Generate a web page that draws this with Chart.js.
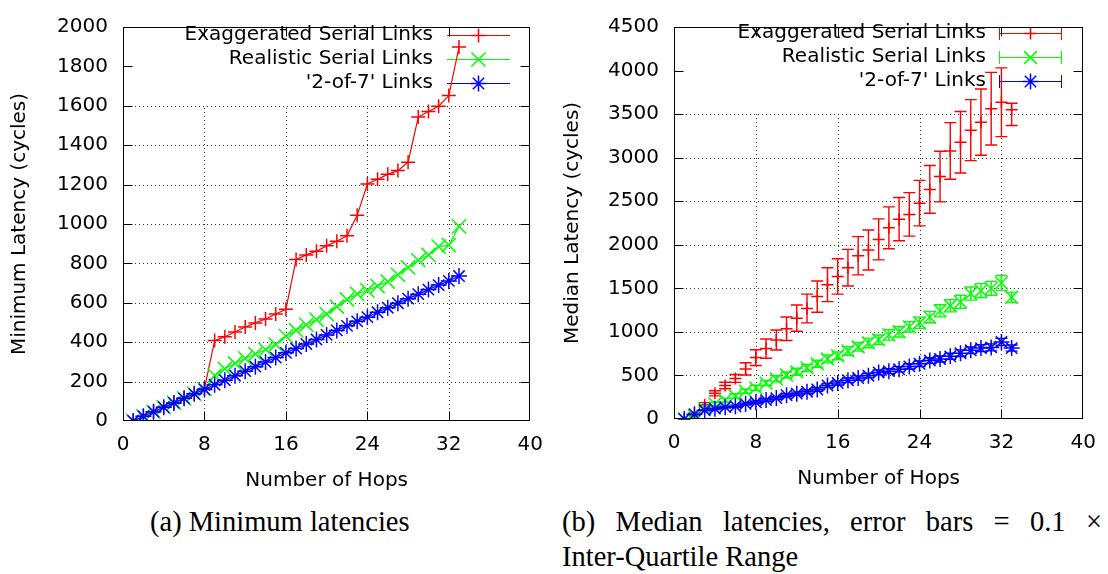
<!DOCTYPE html>
<html><head><meta charset="utf-8">
<script src="https://cdn.jsdelivr.net/npm/chart.js@4.4.1/dist/chart.umd.min.js"></script>
<style>
html,body{margin:0;padding:0;background:#fff;width:1108px;height:574px;overflow:hidden;position:relative}
canvas{position:absolute;top:0}
#c1{left:0}
#c2{left:555px}
.cap{position:absolute;font-family:"Liberation Serif","DejaVu Serif",serif;font-size:28.5px;color:#000;line-height:1}
#capA{left:150px;top:508px;white-space:nowrap}
#capB1{left:562px;top:508px;width:540px;text-align:justify;text-align-last:justify;white-space:nowrap}
#capB2{left:562px;top:543px;white-space:nowrap}
</style></head><body>
<canvas id="c1" width="555" height="505"></canvas>
<canvas id="c2" width="553" height="505"></canvas>
<div class="cap" id="capA">(a) Minimum latencies</div>
<div class="cap" id="capB1">(b) Median latencies, error bars = 0.1 ×</div>
<div class="cap" id="capB2">Inter-Quartile Range</div>
<script>
// ---------- data ----------
const hops = [1,2,3,4,5,6,7,8,9,10,11,12,13,14,15,16,17,18,19,20,21,22,23,24,25,26,27,28,29,30,31,32,33];
const xTickValues = [0,8,16,24,32,40];
const seriesLabels = ["Exaggerated Serial Links","Realistic Serial Links","'2-of-7' Links"];

// (a) minimum latencies (cycles)
const minExag  = [0,24,47,70,92,115,138,165,408,428,452,477,498,518,543,567,820,843,862,889,912,940,1044,1203,1227,1252,1271,1314,1543,1571,1598,1652,1898];
const minReal  = [0,24,47,70,92,115,138,162,231,265,292,318,340,363,388,431,461,488,515,543,581,617,645,663,685,708,742,780,816,843,885,893,988];
const min2of7  = [0,24,47,70,92,115,138,160,184,207,230,253,276,299,322,346,368,391,414,437,460,483,506,527,552,575,598,621,644,667,690,711,736];

// (b) median latencies (cycles) with error bar ends
const medExag   = [0,60,163,295,385,465,575,705,808,907,1036,1158,1269,1405,1542,1637,1737,1874,1940,2062,2195,2294,2349,2478,2636,2783,3077,3177,3316,3408,3562,3636,3551];
const medExagLo = [0,45,138,265,348,420,505,615,698,792,901,1008,1104,1225,1347,1434,1527,1654,1710,1827,1955,2046,2099,2217,2362,2493,2752,2824,2966,3028,3145,3241,3370];
const medExagHi = [0,75,188,325,422,510,645,795,918,1022,1171,1308,1434,1585,1737,1840,1947,2094,2170,2297,2435,2542,2599,2739,2910,3073,3402,3530,3666,3788,3979,4031,3625];

const medReal   = [0,37,118,173,217,265,320,357,413,461,505,542,586,634,689,726,781,829,873,910,965,1002,1058,1105,1170,1242,1300,1345,1440,1474,1500,1562,1397];
const medRealLo = [0,27,103,153,197,240,295,327,383,426,470,502,546,594,644,681,731,779,818,855,905,942,998,1040,1105,1172,1230,1270,1365,1394,1420,1477,1337];
const medRealHi = [0,47,133,193,237,290,345,387,443,496,540,582,626,674,734,771,831,879,928,965,1025,1062,1118,1170,1235,1312,1370,1420,1515,1554,1580,1647,1457];

const med2of7   = [0,55,100,118,136,147,173,192,217,240,273,291,313,339,385,413,445,470,497,534,549,571,604,634,671,689,719,755,789,814,822,884,814];
const med2of7Lo = [0,50,92,108,126,135,161,177,202,225,255,273,293,319,363,391,420,445,472,506,521,541,574,602,639,654,684,717,751,774,782,842,779];
const med2of7Hi = [0,60,108,128,146,159,185,207,232,255,291,309,333,359,407,435,470,495,522,562,577,601,634,666,703,724,754,793,827,854,862,926,849];

// ---------- helpers ----------
const FONT = '"DejaVu Sans", "Liberation Sans", sans-serif';
Chart.defaults.font.family = FONT;
Chart.defaults.font.size = 20;
Chart.defaults.color = '#000';
Chart.defaults.animation = false;

const pts = arr => arr.map((v,i)=>({x:hops[i], y:v}));

function drawMarker(ctx, style, r, x, y){
  ctx.beginPath();
  if(style==='cross'||style==='star'){ctx.moveTo(x-r,y);ctx.lineTo(x+r,y);ctx.moveTo(x,y-r);ctx.lineTo(x,y+r);}
  if(style==='crossRot'||style==='star'){const d=r*Math.SQRT1_2;ctx.moveTo(x-d,y-d);ctx.lineTo(x+d,y+d);ctx.moveTo(x-d,y+d);ctx.lineTo(x+d,y-d);}
  ctx.stroke();
}

function makeDecor(cfg){
  return {
    id:'gpdecor',
    beforeDatasetsDraw(chart){
      const ctx=chart.ctx, a=chart.chartArea, xs=chart.scales.x, ys=chart.scales.y;
      ctx.save();
      // dotted grid, hidden under the key area
      ctx.strokeStyle='rgba(0,0,0,0.8)'; ctx.lineWidth=1; ctx.setLineDash([1,3]);
      const yCut = ys.getPixelForValue(cfg.gridMax);
      xs.ticks.forEach(t=>{
        if(t.value<=xs.min||t.value>=xs.max) return;
        const px=Math.round(xs.getPixelForValue(t.value))+0.5;
        ctx.beginPath(); ctx.moveTo(px,a.bottom); ctx.lineTo(px,yCut); ctx.stroke();
      });
      ys.ticks.forEach(t=>{
        if(t.value<=ys.min||t.value>cfg.gridMax) return;
        const py=Math.round(ys.getPixelForValue(t.value))+0.5;
        ctx.beginPath(); ctx.moveTo(a.left,py); ctx.lineTo(a.right,py); ctx.stroke();
      });
      ctx.setLineDash([]);
      // key
      ctx.font='20px '+FONT; ctx.textAlign='right'; ctx.textBaseline='middle'; ctx.fillStyle='#000';
      chart.data.datasets.forEach((ds,i)=>{
        const ly=cfg.rows[i];
        ctx.fillText(ds.label, cfg.textRight, ly);
        ctx.strokeStyle=ds.borderColor; ctx.lineWidth=1;
        ctx.beginPath(); ctx.moveTo(cfg.s0, ly+0.5); ctx.lineTo(cfg.s1, ly+0.5); ctx.stroke();
        if(cfg.caps){
          ctx.beginPath();
          ctx.moveTo(cfg.s0+0.5, ly-6); ctx.lineTo(cfg.s0+0.5, ly+7);
          ctx.moveTo(cfg.s1-0.5, ly-6); ctx.lineTo(cfg.s1-0.5, ly+7);
          ctx.stroke();
        }
        ctx.lineWidth=1.5;
        drawMarker(ctx, ds.pointStyle, ds.pointRadius, cfg.mx, ly+0.5);
      });
      // error bars
      if(cfg.errors){
        cfg.errors.forEach((e,i)=>{
          const ds=chart.data.datasets[i];
          ctx.strokeStyle=ds.borderColor; ctx.lineWidth=1.4;
          e.lo.forEach((lo,k)=>{
            const px=xs.getPixelForValue(hops[k]);
            const y1=ys.getPixelForValue(lo), y2=ys.getPixelForValue(e.hi[k]);
            ctx.beginPath();
            ctx.moveTo(px,y1); ctx.lineTo(px,y2);
            ctx.moveTo(px-6,y1); ctx.lineTo(px+6,y1);
            ctx.moveTo(px-6,y2); ctx.lineTo(px+6,y2);
            ctx.stroke();
          });
        });
      }
      ctx.restore();
    },
    afterDraw(chart){
      const ctx=chart.ctx, a=chart.chartArea, xs=chart.scales.x, ys=chart.scales.y;
      ctx.save();
      ctx.strokeStyle='#000'; ctx.lineWidth=1;
      const L=Math.round(a.left)+0.5, R=Math.round(a.right)-0.5, T=Math.round(a.top)+0.5, B=Math.round(a.bottom)-0.5;
      ctx.strokeRect(L,T,R-L,B-T);
      ctx.beginPath();
      xs.ticks.forEach(t=>{
        if(t.value<=xs.min||t.value>=xs.max) return;
        const px=Math.round(xs.getPixelForValue(t.value))+0.5;
        ctx.moveTo(px,B); ctx.lineTo(px,B-9); ctx.moveTo(px,T); ctx.lineTo(px,T+9);
      });
      ys.ticks.forEach(t=>{
        if(t.value<=ys.min||t.value>=ys.max) return;
        const py=Math.round(ys.getPixelForValue(t.value))+0.5;
        ctx.moveTo(L,py); ctx.lineTo(L+9,py); ctx.moveTo(R,py); ctx.lineTo(R-9,py);
      });
      ctx.stroke();
      ctx.restore();
    }
  };
}

function xScale(axisH, titlePad){
  return {
    type:'linear', min:0, max:40,
    afterBuildTicks: s => { s.ticks = xTickValues.map(v=>({value:v})); },
    ticks:{color:'#000', padding:12, maxRotation:0, autoSkip:false, callback: v => String(v)},
    grid:{display:false, drawTicks:false}, border:{display:false},
    title:{display:true, text:'Number of Hops', color:'#000', font:{size:20}, padding:{top:0,bottom:titlePad}},
    afterFit: s => { s.height = axisH; }
  };
}
function yScale(max, step, title, axisW, titlePad){
  return {
    type:'linear', min:0, max:max,
    ticks:{stepSize:step, color:'#000', padding:15, callback: v => String(v)},
    grid:{display:false, drawTicks:false}, border:{display:false},
    title:{display:true, text:title, color:'#000', font:{size:20}, padding:{top:titlePad,bottom:0}},
    afterFit: s => { s.width = axisW; }
  };
}

// ---------- (a) ----------
new Chart(document.getElementById('c1'), {
  type:'scatter',
  data:{datasets:[
    {label:seriesLabels[0], data:pts(minExag), showLine:true, borderColor:'#ff0000', backgroundColor:'#ff0000', borderWidth:1.2,
     pointStyle:'cross', pointRadius:7, pointBorderWidth:1.5, order:3},
    {label:seriesLabels[1], data:pts(minReal), showLine:true, borderColor:'#00ff00', backgroundColor:'#00ff00', borderWidth:1.2,
     pointStyle:'crossRot', pointRadius:10, pointBorderWidth:1.5, order:2},
    {label:seriesLabels[2], data:pts(min2of7), showLine:true, borderColor:'#0000ff', backgroundColor:'#0000ff', borderWidth:1.2,
     pointStyle:'star', pointRadius:8, pointBorderWidth:1.5, order:1}
  ]},
  options:{
    responsive:false, devicePixelRatio:1,
    layout:{padding:{left:0, top:14, right:19, bottom:0}},
    plugins:{legend:{display:false}, tooltip:{enabled:false}},
    scales:{ x:xScale(84, 12), y:yScale(2000, 200, 'Minimum Latency (cycles)', 123, 8) }
  },
  plugins:[makeDecor({gridMax:1600, rows:[35,59,83], textRight:433, s0:447, s1:510, mx:478.5, caps:false})]
});

// ---------- (b) ----------
new Chart(document.getElementById('c2'), {
  type:'scatter',
  data:{datasets:[
    {label:seriesLabels[0], data:pts(medExag), showLine:false, borderColor:'#ff0000', backgroundColor:'#ff0000',
     pointStyle:'cross', pointRadius:6, pointBorderWidth:1.5, order:3},
    {label:seriesLabels[1], data:pts(medReal), showLine:false, borderColor:'#00ff00', backgroundColor:'#00ff00',
     pointStyle:'crossRot', pointRadius:9, pointBorderWidth:1.5, order:2},
    {label:seriesLabels[2], data:pts(med2of7), showLine:false, borderColor:'#0000ff', backgroundColor:'#0000ff',
     pointStyle:'star', pointRadius:8, pointBorderWidth:1.5, order:1}
  ]},
  options:{
    responsive:false, devicePixelRatio:1,
    layout:{padding:{left:0, top:12, right:21, bottom:0}},
    plugins:{legend:{display:false}, tooltip:{enabled:false}},
    scales:{ x:xScale(86, 14), y:yScale(4500, 500, 'Median Latency (cycles)', 119, 6) }
  },
  plugins:[makeDecor({gridMax:3500, rows:[33,57,81], textRight:431, s0:444, s1:507, mx:475.5, caps:true,
    errors:[{lo:medExagLo, hi:medExagHi},{lo:medRealLo, hi:medRealHi},{lo:med2of7Lo, hi:med2of7Hi}]})]
});
</script>
</body></html>
